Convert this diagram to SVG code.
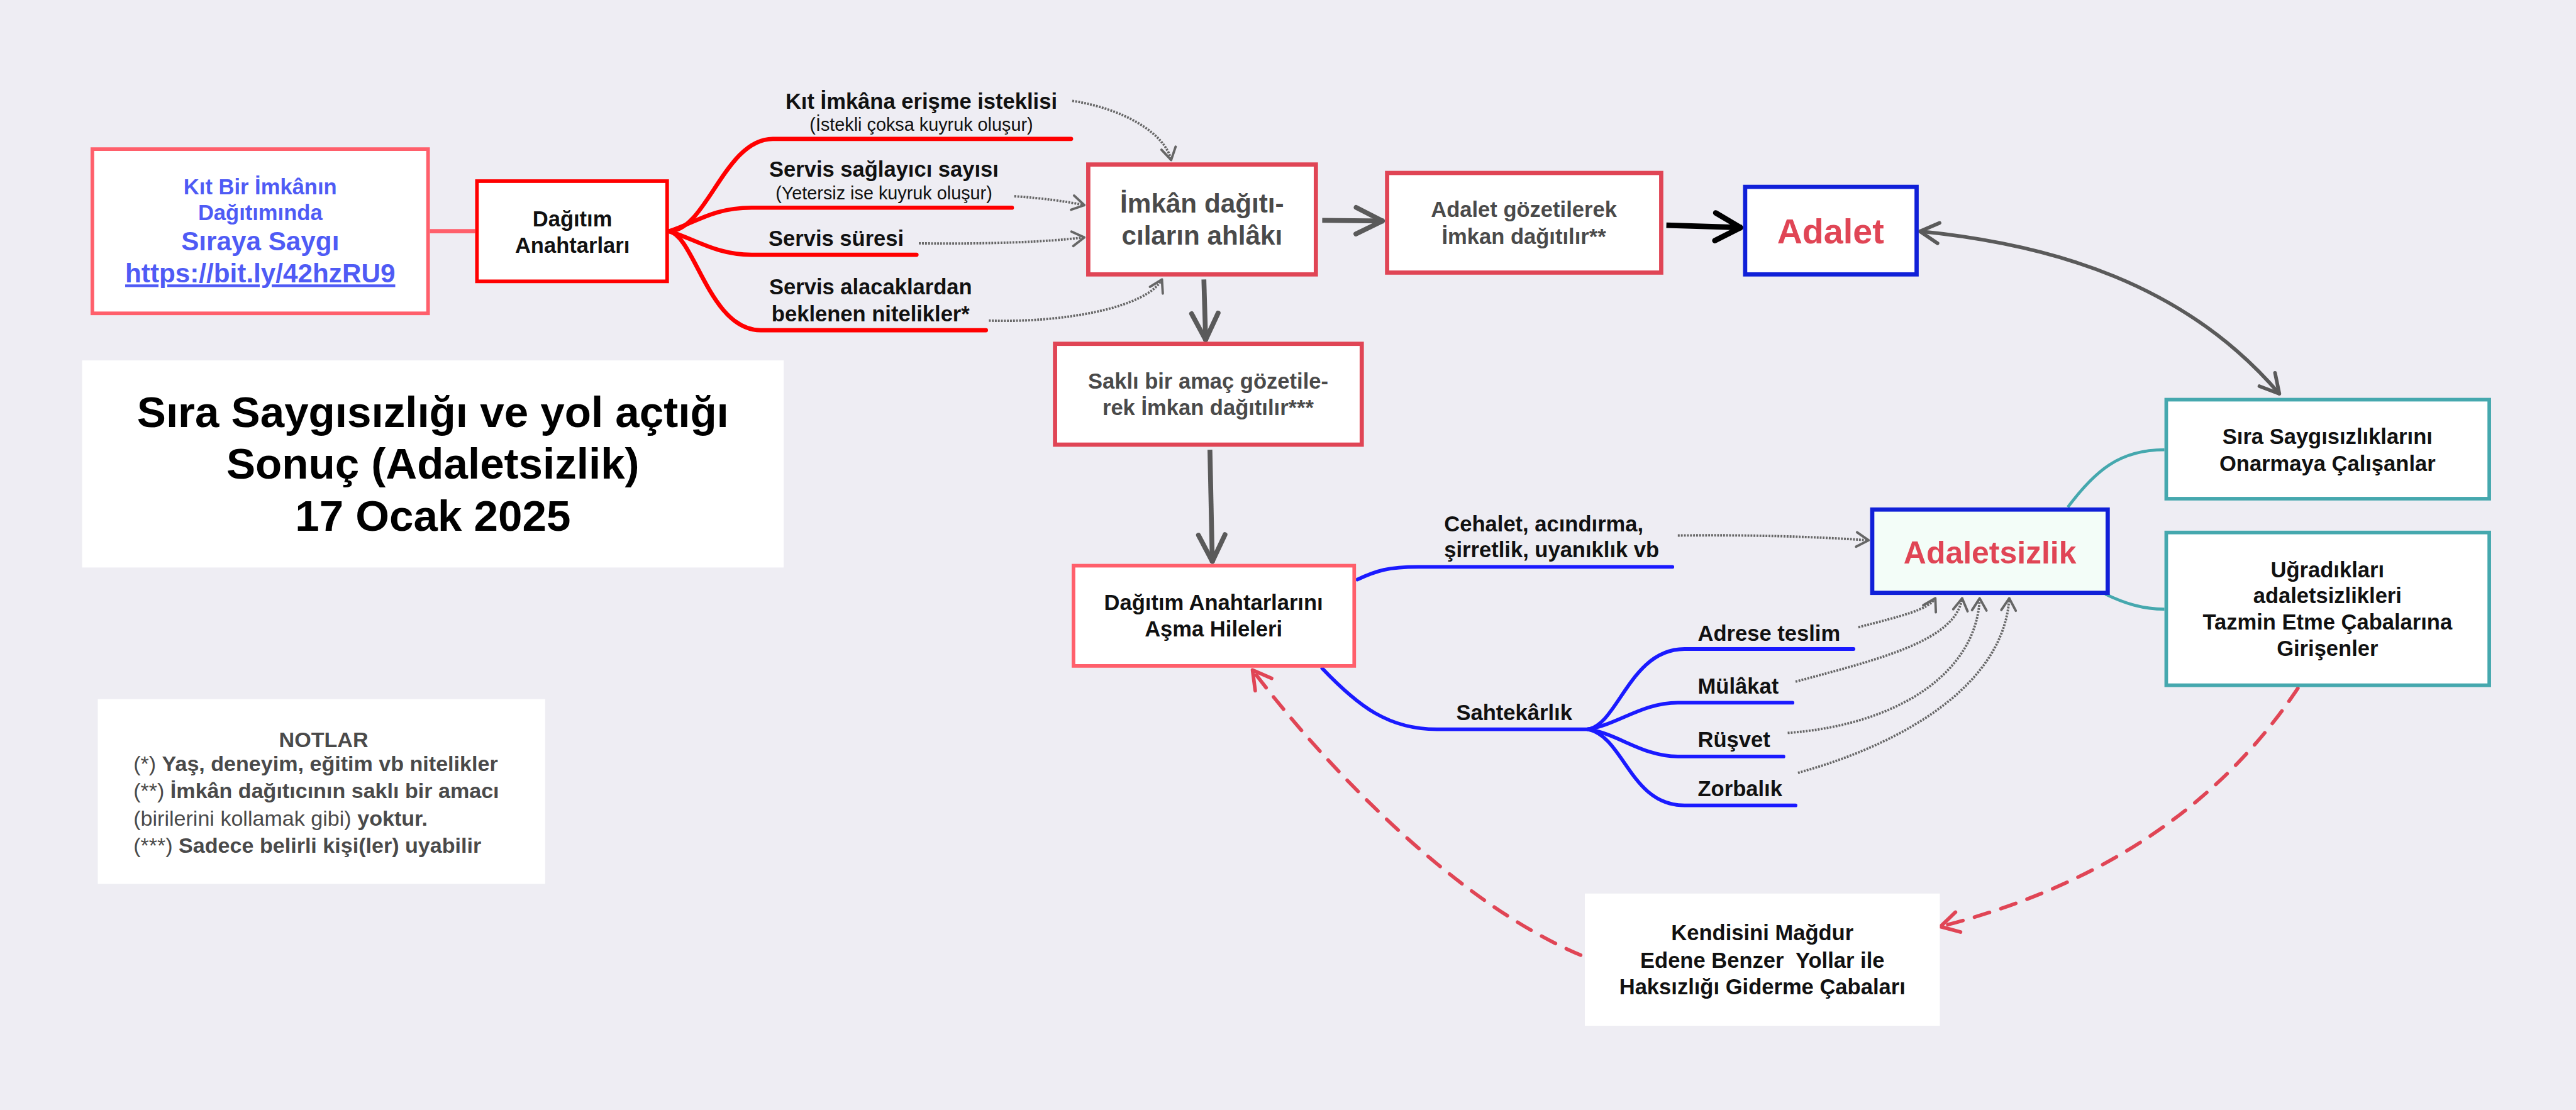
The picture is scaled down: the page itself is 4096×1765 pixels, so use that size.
<svg xmlns="http://www.w3.org/2000/svg" width="4096" height="1765" viewBox="0 0 4096 1765">
<style>
text{font-family:"Liberation Sans",Arial,Helvetica,sans-serif;font-weight:bold;font-size:36px;fill:#111}
.c{text-anchor:middle}
.gy{fill:#4a4a4a}
.rg{font-weight:normal}
.sub{font-weight:normal;font-size:30px}
.wb{fill:#fff}
.lr{fill:#fff;stroke:#ff5f6b;stroke-width:6}
.dr{fill:#fff;stroke:#e04555;stroke-width:7}
.bl{fill:#fff;stroke:#1020d8;stroke-width:7}
.tl{fill:#fff;stroke:#45a8ae;stroke-width:6}
.red{fill:none;stroke:#ff0000;stroke-width:7;stroke-linecap:round}
.blu{fill:none;stroke:#1a1aff;stroke-width:6;stroke-linecap:round}
.teal{fill:none;stroke:#45a8ae;stroke-width:5}
.thk{fill:none;stroke:#5a5a5a;stroke-width:8}
.dot{fill:none;stroke:#666;stroke-width:4;stroke-dasharray:3 2}
.dsh{fill:none;stroke:#e04555;stroke-width:6;stroke-dasharray:26 20;stroke-linecap:round}
</style>
<defs>
<marker id="aG" markerUnits="userSpaceOnUse" viewBox="-54 -30 60 60" markerWidth="60" markerHeight="60" refX="0" refY="0" orient="auto" overflow="visible">
<path d="M-46,-22 L-2,0 L-46,22" fill="none" stroke="#5a5a5a" stroke-width="8" stroke-linecap="round" stroke-linejoin="round"/>
</marker>
<marker id="aK" markerUnits="userSpaceOnUse" viewBox="-54 -30 60 60" markerWidth="60" markerHeight="60" refX="0" refY="0" orient="auto" overflow="visible">
<path d="M-44,-23 L-2,0 L-44,23" fill="none" stroke="#000" stroke-width="9" stroke-linecap="round" stroke-linejoin="round"/>
</marker>
<marker id="aM" markerUnits="userSpaceOnUse" viewBox="-40 -24 46 48" markerWidth="46" markerHeight="48" refX="0" refY="0" orient="auto-start-reverse" overflow="visible">
<path d="M-32,-17 L-1,0 L-32,17" fill="none" stroke="#5a5a5a" stroke-width="6" stroke-linecap="round" stroke-linejoin="round"/>
</marker>
<marker id="aD" markerUnits="userSpaceOnUse" viewBox="-28 -16 32 32" markerWidth="32" markerHeight="32" refX="0" refY="0" orient="auto" overflow="visible">
<path d="M-21,-12 L-1,0 L-21,12" fill="none" stroke="#666" stroke-width="4" stroke-linecap="round" stroke-linejoin="round"/>
</marker>
<marker id="aR" markerUnits="userSpaceOnUse" viewBox="-38 -22 44 44" markerWidth="44" markerHeight="44" refX="0" refY="0" orient="auto" overflow="visible">
<path d="M-31,-17 L-1,0 L-31,17" fill="none" stroke="#e04555" stroke-width="6" stroke-linecap="round" stroke-linejoin="round"/>
</marker>
</defs>
<rect width="4096" height="1765" fill="#eeedf3"/>
<g transform="scale(0.96)">

<g id="connectors">
<path d="M712,383 L787,383" fill="none" stroke="#ff5f6b" stroke-width="7"/>
<path class="red" d="M1108,383 C1170,383 1200,230 1280,230 L1774,230"/>
<path class="red" d="M1108,383 C1150,370 1180,344 1245,344 L1676,344"/>
<path class="red" d="M1108,383 C1150,395 1185,422 1245,422 L1518,422"/>
<path class="red" d="M1108,383 C1150,390 1175,547 1260,547 L1633,547"/>
<path class="dot" d="M1776,167 C1860,180 1930,220 1940,266" marker-end="url(#aD)"/>
<path class="dot" d="M1680,325 Q1750,330 1797,340" marker-end="url(#aD)"/>
<path class="dot" d="M1522,403 Q1700,405 1797,393" marker-end="url(#aD)"/>
<path class="dot" d="M1638,531 C1760,535 1900,510 1925,462" marker-end="url(#aD)"/>
<path class="thk" d="M2190,365 L2292,366" marker-end="url(#aG)"/>
<path class="thk" d="M1994,463 L1997,565" marker-end="url(#aG)"/>
<path class="thk" d="M2004,745 L2008,932" marker-end="url(#aG)"/>
<path d="M2760,373 L2885,377" fill="none" stroke="#000" stroke-width="9" marker-end="url(#aK)"/>
<path d="M3179,383 C3400,405 3620,470 3776,653" fill="none" stroke="#5a5a5a" stroke-width="6" marker-start="url(#aM)" marker-end="url(#aM)"/>
<path class="blu" d="M2248,960 C2280,945 2300,939 2349,939 L2770,939"/>
<path class="blu" d="M2190,1107 C2250,1170 2300,1208 2380,1208 L2630,1208"/>
<path class="blu" d="M2630,1208 C2680,1200 2700,1075 2790,1075 L3070,1075"/>
<path class="blu" d="M2630,1208 C2680,1200 2720,1164 2779,1164 L2969,1164"/>
<path class="blu" d="M2630,1208 C2680,1215 2720,1253 2779,1253 L2954,1253"/>
<path class="blu" d="M2630,1208 C2690,1220 2700,1334 2790,1334 L2974,1334"/>
<path class="dot" d="M2779,887 Q2950,885 3096,895" marker-end="url(#aD)"/>
<path class="dot" d="M3078,1039 C3150,1020 3195,1010 3206,990" marker-end="url(#aD)"/>
<path class="dot" d="M2974,1129 C3120,1090 3240,1060 3250,990" marker-end="url(#aD)"/>
<path class="dot" d="M2961,1214 C3150,1200 3275,1110 3279,990" marker-end="url(#aD)"/>
<path class="dot" d="M2978,1280 C3160,1230 3320,1130 3328,990" marker-end="url(#aD)"/>
<path class="teal" d="M3425,840 C3470,780 3510,745 3585,745"/>
<path class="teal" d="M3487,984 C3520,1000 3550,1009 3585,1009"/>
<path class="dsh" d="M3806,1140 Q3610,1434 3213,1535" marker-end="url(#aR)"/>
<path class="dsh" d="M2618,1582 C2400,1490 2180,1250 2074,1109" marker-end="url(#aR)"/>
</g>

<g id="n-kit">
<rect class="lr" x="153" y="247" width="556" height="272"/>
<text class="c" x="431" y="322" style="fill:#4f5bf5">Kıt Bir İmkânın</text>
<text class="c" x="431" y="365" style="fill:#4f5bf5">Dağıtımında</text>
<text class="c" x="431" y="415" style="fill:#4f5bf5;font-size:44px">Sıraya Saygı</text>
<text class="c" x="431" y="468" style="fill:#4f5bf5;font-size:44px" text-decoration="underline">https://bit.ly/42hzRU9</text>
</g>

<g id="n-anahtar">
<rect x="790" y="300" width="315" height="166" fill="#fff" stroke="#ff0000" stroke-width="6"/>
<text class="c" x="948" y="375">Dağıtım</text>
<text class="c" x="948" y="419">Anahtarları</text>
</g>

<g id="n-branches">
<text class="c" x="1526" y="180">Kıt İmkâna erişme isteklisi</text>
<text class="c sub" x="1526" y="217">(İstekli çoksa kuyruk oluşur)</text>
<text class="c" x="1464" y="293">Servis sağlayıcı sayısı</text>
<text class="c sub" x="1464" y="330">(Yetersiz ise kuyruk oluşur)</text>
<text class="c" x="1385" y="407">Servis süresi</text>
<text class="c" x="1442" y="488">Servis alacaklardan</text>
<text class="c" x="1442" y="532">beklenen nitelikler*</text>
</g>

<g id="n-imkan">
<rect class="dr" x="1802.5" y="272.5" width="377" height="182"/>
<text class="c gy" x="1991" y="352" style="font-size:44px">İmkân dağıtı-</text>
<text class="c gy" x="1991" y="405" style="font-size:44px">cıların ahlâkı</text>
</g>

<g id="n-adaletgoz">
<rect class="dr" x="2297.5" y="286.5" width="454" height="165"/>
<text class="c gy" x="2524" y="359">Adalet gözetilerek</text>
<text class="c gy" x="2524" y="404">İmkan dağıtılır**</text>
</g>

<g id="n-adalet">
<rect class="bl" x="2890.5" y="309.5" width="284" height="145"/>
<text class="c" x="3032" y="403" style="fill:#e04555;font-size:58px">Adalet</text>
</g>

<g id="n-sakli">
<rect class="dr" x="1747.5" y="569.5" width="508" height="167"/>
<text class="c gy" x="2001" y="644">Saklı bir amaç gözetile-</text>
<text class="c gy" x="2001" y="688">rek İmkan dağıtılır***</text>
</g>

<g id="n-hile">
<rect class="lr" x="1778" y="937" width="465" height="166"/>
<text class="c" x="2010" y="1010">Dağıtım Anahtarlarını</text>
<text class="c" x="2010" y="1054">Aşma Hileleri</text>
</g>

<g id="n-hile-branches">
<text x="2392" y="880">Cehalet, acındırma,</text>
<text x="2392" y="923">şirretlik, uyanıklık vb</text>
<text class="c" x="2508" y="1193">Sahtekârlık</text>
<text x="2812" y="1061">Adrese teslim</text>
<text x="2812" y="1149">Mülâkat</text>
<text x="2812" y="1238">Rüşvet</text>
<text x="2812" y="1319">Zorbalık</text>
</g>

<g id="n-adaletsizlik">
<rect x="3101" y="844" width="390" height="138" fill="#f3fdf8" stroke="#1020d8" stroke-width="7"/>
<text class="c" x="3296" y="933" style="fill:#e04555;font-size:52px">Adaletsizlik</text>
</g>

<g id="n-onarma">
<rect class="tl" x="3588" y="662" width="535" height="164"/>
<text class="c" x="3855" y="735">Sıra Saygısızlıklarını</text>
<text class="c" x="3855" y="780">Onarmaya Çalışanlar</text>
</g>

<g id="n-tazmin">
<rect class="tl" x="3588" y="882" width="535" height="253"/>
<text class="c" x="3855" y="956">Uğradıkları</text>
<text class="c" x="3855" y="999">adaletsizlikleri</text>
<text class="c" x="3855" y="1043">Tazmin Etme Çabalarına</text>
<text class="c" x="3855" y="1086">Girişenler</text>
</g>

<g id="n-magdur">
<rect class="wb" x="2625" y="1480" width="588" height="219"/>
<text class="c" x="2919" y="1557">Kendisini Mağdur</text>
<text class="c" x="2919" y="1603" xml:space="preserve" style="white-space:pre">Edene Benzer  Yollar ile</text>
<text class="c" x="2919" y="1647">Haksızlığı Giderme Çabaları</text>
</g>

<g id="n-title">
<rect class="wb" x="136" y="597" width="1162" height="343"/>
<text class="c" x="717" y="707" style="font-size:72px;fill:#000">Sıra Saygısızlığı ve yol açtığı</text>
<text class="c" x="717" y="793" style="font-size:72px;fill:#000">Sonuç (Adaletsizlik)</text>
<text class="c" x="717" y="879" style="font-size:72px;fill:#000">17 Ocak 2025</text>
</g>

<g id="n-notlar">
<rect class="wb" x="162" y="1158" width="741" height="306"/>
<text class="c gy" x="536" y="1237" style="font-size:35.5px">NOTLAR</text>
<text class="gy" x="221" y="1277" style="font-size:35.5px"><tspan class="rg">(*) </tspan>Yaş, deneyim, eğitim vb nitelikler</text>
<text class="gy" x="221" y="1322" style="font-size:35.5px"><tspan class="rg">(**) </tspan>İmkân dağıtıcının saklı bir amacı</text>
<text class="gy" x="221" y="1368" style="font-size:35.5px"><tspan class="rg">(birilerini kollamak gibi) </tspan>yoktur.</text>
<text class="gy" x="221" y="1412" style="font-size:35.5px"><tspan class="rg">(***) </tspan>Sadece belirli kişi(ler) uyabilir</text>
</g>

</g>
</svg>
